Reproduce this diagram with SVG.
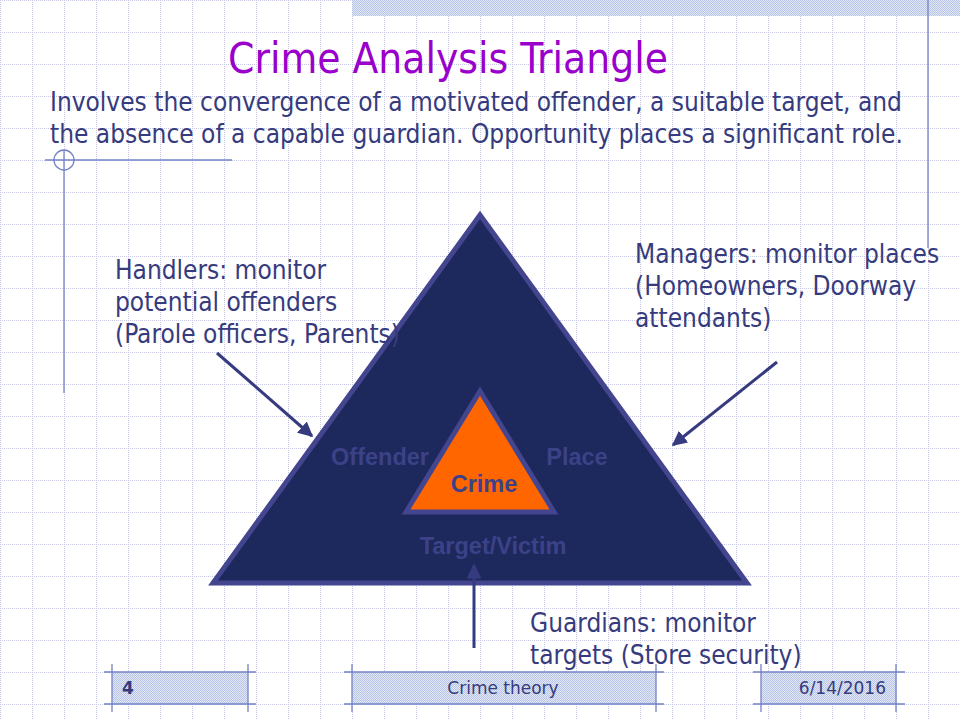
<svg xmlns="http://www.w3.org/2000/svg" width="960" height="720" viewBox="0 0 960 720">
<defs>
<pattern id="grid" x="0" y="0" width="32" height="32" patternUnits="userSpaceOnUse">
<path d="M0.5 0 V32 M0 0.5 H32" stroke="#c6c8e6" stroke-width="1" stroke-dasharray="1 1" fill="none"/>
</pattern>
<pattern id="hatch" x="0" y="0" width="2" height="2" patternUnits="userSpaceOnUse">
<rect width="2" height="2" fill="#e2e8f6"/>
<rect width="1" height="1" fill="#b7c4e6"/>
<rect x="1" y="1" width="1" height="1" fill="#b7c4e6"/>
</pattern>
<marker id="arr" viewBox="0 0 10 10" refX="9" refY="5" markerWidth="5" markerHeight="5" orient="auto" markerUnits="strokeWidth">
<path d="M0 0 L10 5 L0 10 Z" fill="#363b80"/>
</marker>
<style>
.body{font-family:"DejaVu Sans Condensed","DejaVu Sans",sans-serif;font-size:26px;fill:#363b7e}
.lbl{font-family:"Liberation Sans",Arial,sans-serif;font-weight:bold;font-size:23.5px;fill:#3c4287;text-anchor:middle}
.foot{font-family:"DejaVu Sans","Liberation Sans",sans-serif;font-size:17px;fill:#363b7e}
.deco{stroke:#7382c8;stroke-width:1.3;fill:none}
.conn{stroke:#363b80;stroke-width:3;fill:none}
</style>
</defs>
<rect width="960" height="720" fill="#ffffff"/>
<rect width="960" height="720" fill="url(#grid)"/>
<rect x="352" y="0" width="608" height="16" fill="url(#hatch)"/>
<g id="decor">
<line class="deco" x1="928" y1="0" x2="928" y2="248"/>
<line class="deco" x1="45" y1="160" x2="232" y2="160"/>
<circle class="deco" cx="64" cy="160" r="10"/>
<line class="deco" x1="64" y1="150" x2="64" y2="393"/>
</g>
<g id="title">
<text x="448" y="73" text-anchor="middle" style="font-family:'DejaVu Sans Condensed','DejaVu Sans',sans-serif;font-size:42px;fill:#9900cc">Crime Analysis Triangle</text>
</g>
<g id="intro">
<text class="body" x="50" y="111">Involves the convergence of a motivated offender, a suitable target, and</text>
<text class="body" x="50" y="143">the absence of a capable guardian. Opportunity places a significant role.</text>
</g>
<g id="outer-triangle">
<polygon points="480,215 213,583 747,583" fill="#1d285d" stroke="#43458f" stroke-width="5" stroke-linejoin="miter"/>
<text class="lbl" x="380" y="465">Offender</text>
<text class="lbl" x="577" y="465">Place</text>
<text class="lbl" x="493" y="554">Target/Victim</text>
</g>
<g id="crime">
<polygon points="480,391 406,512 554,512" fill="#ff6600" stroke="#43458f" stroke-width="5"/>
<text class="lbl" x="484" y="492" style="fill:#3d418a">Crime</text>
</g>
<g id="handlers">
<text class="body" x="115" y="279">Handlers: monitor</text>
<text class="body" x="115" y="311">potential offenders</text>
<text class="body" x="115" y="343">(Parole officers, Parents)</text>
</g>
<g id="managers">
<text class="body" x="635" y="263">Managers: monitor places</text>
<text class="body" x="635" y="295">(Homeowners, Doorway</text>
<text class="body" x="635" y="327">attendants)</text>
</g>
<g id="guardians">
<text class="body" x="530" y="632">Guardians: monitor</text>
<text class="body" x="530" y="664">targets (Store security)</text>
</g>
<g id="connectors">
<line class="conn" x1="217" y1="353" x2="312" y2="436" marker-end="url(#arr)"/>
<line class="conn" x1="777" y1="362" x2="673" y2="445" marker-end="url(#arr)"/>
<line class="conn" x1="474" y1="648" x2="474" y2="565" marker-end="url(#arr)"/>
</g>
<g id="footer">
<rect x="112" y="672" width="136" height="32" fill="url(#hatch)"/>
<rect x="352" y="672" width="304" height="32" fill="url(#hatch)"/>
<rect x="761" y="672" width="135" height="32" fill="url(#hatch)"/>
<path class="deco" d="M104 672 H256 M104 704 H256 M112 664 V712 M248 664 V712 M344 672 H664 M344 704 H664 M352 664 V712 M656 664 V712 M753 672 H905 M753 704 H905 M761 664 V712 M896 664 V712"/>
<text class="foot" x="122" y="694" style="font-weight:bold">4</text>
<text class="foot" x="503" y="694" text-anchor="middle">Crime theory</text>
<text class="foot" x="886" y="694" text-anchor="end">6/14/2016</text>
</g>
</svg>
